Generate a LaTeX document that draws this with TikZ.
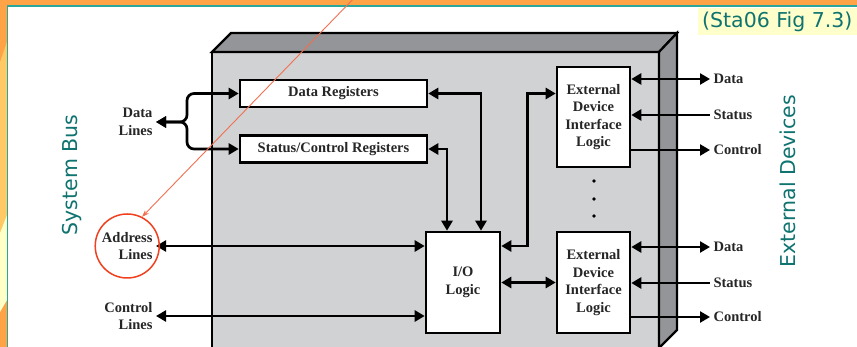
\documentclass[tikz,border=0pt]{standalone}
\usepackage{fontspec}
\setmainfont{Liberation Serif}
\newfontfamily\slidefont{DejaVu Sans}
\usepackage{tikz}
\usetikzlibrary{positioning,calc}
\usetikzlibrary{arrows.meta}
\definecolor{slideorange}{HTML}{FFA347}
\definecolor{slidelight}{HTML}{FFC965}
\definecolor{slidepale}{HTML}{FFFFC8}
\definecolor{slideteal}{HTML}{2AA79B}
\definecolor{titleteal}{HTML}{0F7370}
\definecolor{frontface}{HTML}{D1D2D4}
\definecolor{darkface}{HTML}{939598}
\definecolor{markred}{HTML}{F0401E}
\definecolor{markline}{HTML}{F27050}
\definecolor{labelbox}{HTML}{FFFFCC}
\tikzset{>={Triangle[width=11pt,length=10pt]}}

\begin{document}
\begin{tikzpicture}[x=1pt, y=-1pt,
    every node/.style={font=\bfseries\fontsize{14.5}{17.5}\selectfont, text=black!85},
    blockbox/.style={draw, line width=2.6pt, fill=white, inner sep=0pt, align=center},
    bus/.style={line width=2.7pt},
    sidetitle/.style={font=\slidefont\fontsize{20.5}{24}\selectfont, text=titleteal, rotate=90}]
    \path[use as bounding box] (0,0) rectangle (857,347);
    \clip (0,0) rectangle (857,347);
    \fill[white] (0,0) rectangle (857,347);

    % slide frame
    \fill[slideorange] (0,0) rectangle (857,5.5);
    \fill[slideorange] (0,0) rectangle (7,347);
    \fill[slidelight] (7,42) -- (7,215) -- (0,233) -- (0,62) -- cycle;
    \fill[slidepale] (7,215) -- (7,300) -- (0,312) -- (0,233) -- cycle;
    \draw[slideteal, line width=1.4pt] (857,6) -- (7.6,6) -- (7.6,347);

    % the module box
    \draw[line width=2.2pt, fill=frontface] (212,52) rectangle (659,360);
    \draw[line width=2.2pt, fill=darkface] (212,52) -- (231,33) -- (677,33) -- (659,52) -- cycle;
    \draw[line width=2.2pt, fill=darkface] (659,52) -- (677,33) -- (677,330) -- (659,348) -- cycle;

    \node[blockbox, minimum width=187, minimum height=27] (dataregs) at (333.5,93.5) {Data Registers};
    \node[blockbox, minimum width=187, minimum height=27] (statregs) at (333.5,149) {Status/Control Registers};
    \node[blockbox, minimum width=74, minimum height=101] (iologic) at (463,282.5) {I/O\\Logic};
    \node[blockbox, minimum width=73, minimum height=100] (edilA) at (593.5,117) {External\\Device\\Interface\\Logic};
    \node[blockbox, minimum width=73, minimum height=101] (edilB) at (593.5,282.5) {External\\Device\\Interface\\Logic};
    \foreach \y in {181,199,216} \fill (594,\y) circle (1.8);

    % system bus side
    \node[anchor=east, align=right] (datalines) at (156,122) {Data\\Lines};
    \node[anchor=east, align=right] (addrlines) at (156,246) {Address\\Lines};
    \node[anchor=east, align=right] (ctrllines) at (156,316) {Control\\Lines};

    \draw[<->, bus, rounded corners=7pt] (datalines.east) -- ++(31,0) |- (dataregs.west);
    \draw[<->, bus, rounded corners=7pt] (datalines.east) -- ++(31,0) |- (statregs.west);
    \draw[<->, bus] (addrlines.east) -- (addrlines.east -| iologic.west);
    \draw[<->, bus] (ctrllines.east) -- (ctrllines.east -| iologic.west);

    \draw[<->, bus] (dataregs.east) -| ([xshift=18pt]iologic.north);
    \draw[<->, bus] (statregs.east) -| ([xshift=-16pt]iologic.north);
    \draw[<->, bus] ([yshift=36.5pt]iologic.east) -| ($(edilA.west |- dataregs.east)+(-28,0)$) -- (edilA.west |- dataregs.east);
    \draw[<->, bus] (iologic.east) -- (edilB.west);

    % device side
    \node[anchor=west] (dataA) at (710,79) {Data};
    \node[anchor=west] (statusA) at (710,115) {Status};
    \node[anchor=west] (ctrlA) at (710,150) {Control};
    \node[anchor=west] (dataB) at (710,247) {Data};
    \node[anchor=west] (statusB) at (710,283) {Status};
    \node[anchor=west] (ctrlB) at (710,317) {Control};

    \draw[<->, bus] (edilA.east |- dataA.west) -- (dataA.west);
    \draw[<-, bus] (edilA.east |- statusA.west) -- (statusA.west);
    \draw[->, bus] (edilA.east |- ctrlA.west) -- (ctrlA.west);
    \draw[<->, bus] (edilB.east |- dataB.west) -- (dataB.west);
    \draw[<-, bus] (edilB.east |- statusB.west) -- (statusB.west);
    \draw[->, bus] (edilB.east |- ctrlB.west) -- (ctrlB.west);

    % slide texts
    \node[sidetitle] (sysbus) at (72,175) {System Bus};
    \node[sidetitle] (extdev) at (788,181) {External Devices};
    \node[fill=labelbox, inner sep=0pt, minimum width=159, minimum height=27, anchor=north east,
          font=\slidefont\fontsize{20.5}{24}\selectfont, text=titleteal] (figref) at (857,8) {(Sta06 Fig 7.3)};

    % highlight
    \node[draw=markred, circle, line width=1.5pt, minimum size=64pt, inner sep=0pt] (ring) at (addrlines.center) {};
    \coordinate (pointer) at (358,-6);
    \draw[markline, line width=0.9pt, -{Stealth[length=7pt,width=5pt]}] (pointer) -- (ring.63);
\end{tikzpicture}
\end{document}
